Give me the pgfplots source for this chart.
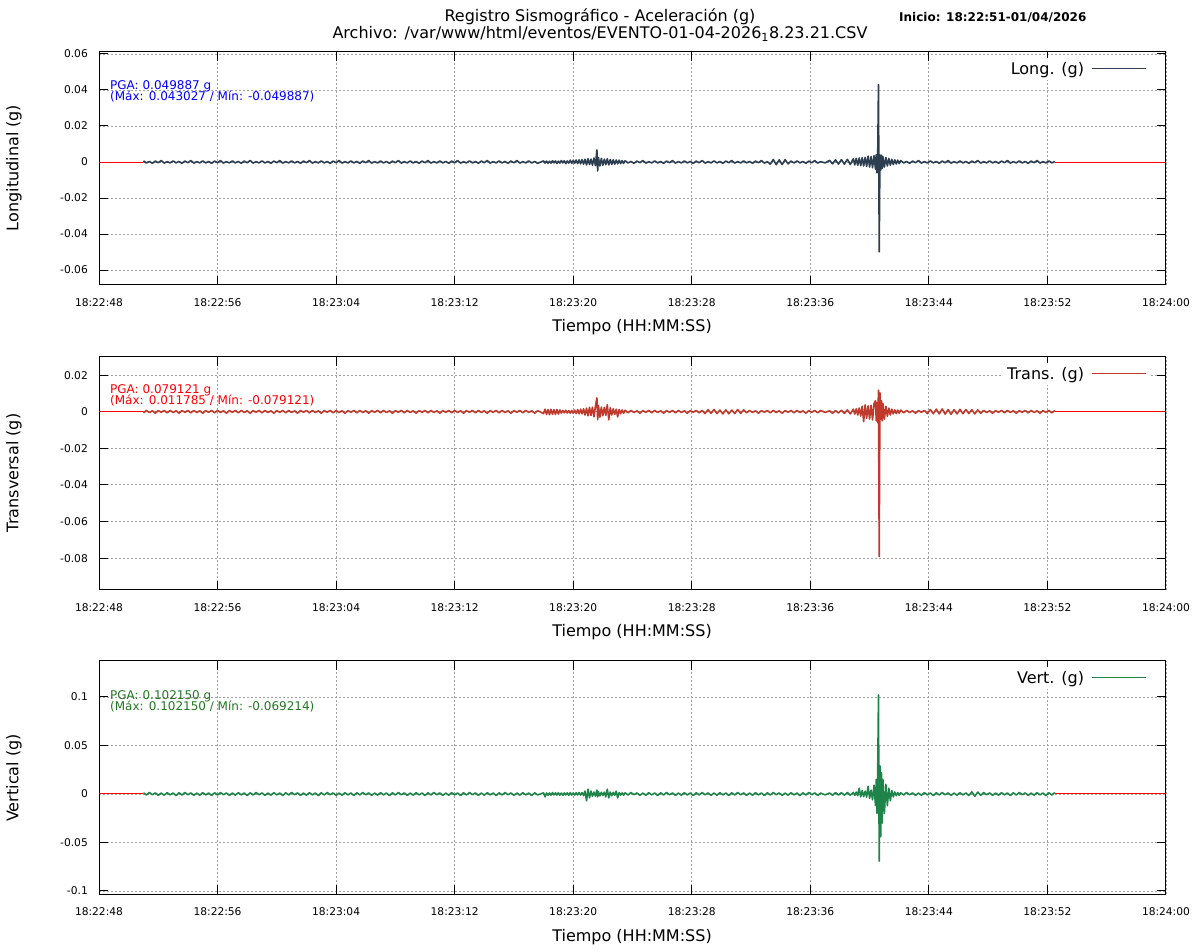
\documentclass[border=0pt]{standalone}
\usepackage{fontspec}
\setmainfont{DejaVu Sans}
\usepackage{pgfplots}
\usepackage{pgfplotstable}
\pgfplotsset{compat=1.18}

\definecolor{cLong}{RGB}{44,62,80}
\definecolor{cTrans}{RGB}{192,57,43}
\definecolor{cVert}{RGB}{30,132,73}
\definecolor{pgaGreen}{RGB}{34,119,34}
\definecolor{gridgray}{RGB}{160,160,160}

% t = seconds after 18:22:48, L/T/V = acceleration (g)
\pgfplotstableread{
t L T V
3.0 0.0006 -0.0006 0.0012
3.2 -0.0005 0.0007 -0.0010
3.4 0.0003 -0.0004 0.0015
3.6 -0.0007 0.0005 -0.0008
3.8 0.0005 -0.0008 0.0011
4.0 -0.0004 0.0006 -0.0014
4.2 0.0008 -0.0003 0.0009
4.4 -0.0006 0.0007 -0.0012
4.6 0.0002 -0.0006 0.0013
4.8 -0.0005 0.0007 -0.0009
5.0 0.0006 -0.0004 0.0010
5.2 -0.0005 0.0005 -0.0016
5.4 0.0003 -0.0008 0.0012
5.6 -0.0007 0.0006 -0.0010
5.8 0.0005 -0.0003 0.0015
6.0 -0.0004 0.0007 -0.0008
6.2 0.0008 -0.0006 0.0011
6.4 -0.0006 0.0007 -0.0014
6.6 0.0002 -0.0004 0.0009
6.8 -0.0005 0.0005 -0.0012
7.0 0.0006 -0.0008 0.0013
7.2 -0.0005 0.0006 -0.0009
7.4 0.0003 -0.0003 0.0010
7.6 -0.0007 0.0007 -0.0016
7.8 0.0005 -0.0006 0.0012
8.0 -0.0004 0.0007 -0.0010
8.2 0.0008 -0.0004 0.0015
8.4 -0.0006 0.0005 -0.0008
8.6 0.0002 -0.0008 0.0011
8.8 -0.0005 0.0006 -0.0014
9.0 0.0006 -0.0003 0.0009
9.2 -0.0005 0.0007 -0.0012
9.4 0.0003 -0.0006 0.0013
9.6 -0.0007 0.0007 -0.0009
9.8 0.0005 -0.0004 0.0010
10.0 -0.0004 0.0005 -0.0016
10.2 0.0008 -0.0008 0.0012
10.4 -0.0006 0.0006 -0.0010
10.6 0.0002 -0.0003 0.0015
10.8 -0.0005 0.0007 -0.0008
11.0 0.0006 -0.0006 0.0011
11.2 -0.0005 0.0007 -0.0014
11.4 0.0003 -0.0004 0.0009
11.6 -0.0007 0.0005 -0.0012
11.8 0.0005 -0.0008 0.0013
12.0 -0.0004 0.0006 -0.0009
12.2 0.0008 -0.0003 0.0010
12.4 -0.0006 0.0007 -0.0016
12.6 0.0002 -0.0006 0.0012
12.8 -0.0005 0.0007 -0.0010
13.0 0.0006 -0.0004 0.0015
13.2 -0.0005 0.0005 -0.0008
13.4 0.0003 -0.0008 0.0011
13.6 -0.0007 0.0006 -0.0014
13.8 0.0005 -0.0003 0.0009
14.0 -0.0004 0.0007 -0.0012
14.2 0.0008 -0.0006 0.0013
14.4 -0.0006 0.0007 -0.0009
14.6 0.0002 -0.0004 0.0010
14.8 -0.0005 0.0005 -0.0016
15.0 0.0006 -0.0008 0.0012
15.2 -0.0005 0.0006 -0.0010
15.4 0.0003 -0.0003 0.0015
15.6 -0.0007 0.0007 -0.0008
15.8 0.0005 -0.0006 0.0011
16.0 -0.0004 0.0007 -0.0014
16.2 0.0008 -0.0004 0.0009
16.4 -0.0006 0.0005 -0.0012
16.6 0.0002 -0.0008 0.0013
16.8 -0.0005 0.0006 -0.0009
17.0 0.0006 -0.0003 0.0010
17.2 -0.0005 0.0007 -0.0016
17.4 0.0003 -0.0006 0.0012
17.6 -0.0007 0.0007 -0.0010
17.8 0.0005 -0.0004 0.0015
18.0 -0.0004 0.0005 -0.0008
18.2 0.0008 -0.0008 0.0011
18.4 -0.0006 0.0006 -0.0014
18.6 0.0002 -0.0003 0.0009
18.8 -0.0005 0.0007 -0.0012
19.0 0.0006 -0.0006 0.0013
19.2 -0.0005 0.0007 -0.0009
19.4 0.0003 -0.0004 0.0010
19.6 -0.0007 0.0005 -0.0016
19.8 0.0005 -0.0008 0.0012
20.0 -0.0004 0.0006 -0.0010
20.2 0.0008 -0.0003 0.0015
20.4 -0.0006 0.0007 -0.0008
20.6 0.0002 -0.0006 0.0011
20.8 -0.0005 0.0007 -0.0014
21.0 0.0006 -0.0004 0.0009
21.2 -0.0005 0.0005 -0.0012
21.4 0.0003 -0.0008 0.0013
21.6 -0.0007 0.0006 -0.0009
21.8 0.0005 -0.0003 0.0010
22.0 -0.0004 0.0007 -0.0016
22.2 0.0008 -0.0006 0.0012
22.4 -0.0006 0.0007 -0.0010
22.6 0.0002 -0.0004 0.0015
22.8 -0.0005 0.0005 -0.0008
23.0 0.0006 -0.0008 0.0011
23.2 -0.0005 0.0006 -0.0014
23.4 0.0003 -0.0003 0.0009
23.6 -0.0007 0.0007 -0.0012
23.8 0.0005 -0.0006 0.0013
24.0 -0.0004 0.0007 -0.0009
24.2 0.0008 -0.0004 0.0010
24.4 -0.0006 0.0005 -0.0016
24.6 0.0002 -0.0008 0.0012
24.8 -0.0005 0.0006 -0.0010
25.0 0.0006 -0.0003 0.0015
25.2 -0.0005 0.0007 -0.0008
25.4 0.0003 -0.0006 0.0011
25.6 -0.0007 0.0007 -0.0014
25.8 0.0005 -0.0004 0.0009
26.0 -0.0004 0.0005 -0.0012
26.2 0.0008 -0.0008 0.0013
26.4 -0.0006 0.0006 -0.0009
26.6 0.0002 -0.0003 0.0010
26.8 -0.0005 0.0007 -0.0016
27.0 0.0006 -0.0006 0.0012
27.2 -0.0005 0.0007 -0.0010
27.4 0.0003 -0.0004 0.0015
27.6 -0.0007 0.0005 -0.0008
27.8 0.0005 -0.0008 0.0011
28.0 -0.0004 0.0006 -0.0014
28.2 0.0008 -0.0003 0.0009
28.4 -0.0006 0.0007 -0.0012
28.6 0.0002 -0.0006 0.0013
28.8 -0.0005 0.0007 -0.0009
29.0 0.0006 -0.0004 0.0010
29.2 -0.0005 0.0005 -0.0016
29.4 0.0003 -0.0008 0.0012
29.6 -0.0007 0.0006 -0.0010
30.0 0.0006 -0.0010 0.0012
30.1 -0.0006 0.0014 -0.0030
30.2 0.0005 -0.0015 0.0011
30.3 -0.0007 0.0012 -0.0013
30.4 0.0004 -0.0016 0.0010
30.5 -0.0006 0.0013 -0.0012
30.6 0.0007 -0.0014 0.0014
30.7 -0.0005 0.0011 -0.0010
30.8 0.0006 -0.0015 0.0012
30.9 -0.0008 0.0012 -0.0011
31.0 0.0005 -0.0013 0.0013
31.1 -0.0006 0.0010 -0.0012
31.2 0.0008 -0.0008 0.0010
31.3 -0.0005 0.0007 -0.0014
31.4 0.0007 -0.0006 0.0011
31.5 -0.0009 0.0008 -0.0010
31.6 0.0006 -0.0007 0.0012
31.7 -0.0006 0.0006 -0.0013
31.8 0.0010 -0.0008 0.0014
31.9 -0.0008 0.0007 -0.0011
32.0 0.0009 -0.0008 0.0010
32.1 -0.0007 0.0009 -0.0012
32.2 0.0011 -0.0010 0.0013
32.3 -0.0009 0.0012 -0.0010
32.4 0.0012 -0.0011 0.0015
32.5 -0.0010 0.0014 -0.0012
32.6 0.0013 -0.0012 0.0014
32.7 -0.0012 0.0016 -0.0016
32.8 0.0015 -0.0018 0.0030
32.9 -0.0016 0.0020 -0.0070
33.0 0.0018 -0.0022 0.0050
33.1 -0.0014 0.0024 -0.0040
33.2 0.0016 -0.0020 0.0030
33.3 -0.0018 0.0025 -0.0025
33.4 0.0022 -0.0028 0.0020
33.5 -0.0020 0.0030 -0.0022
33.6 0.0067 0.0076 0.0040
33.65 -0.0050 -0.0044 -0.0030
33.7 0.0025 0.0035 0.0025
33.8 -0.0022 -0.0030 -0.0020
33.9 0.0020 0.0025 0.0018
34.0 -0.0018 -0.0022 -0.0016
34.1 0.0016 0.0024 0.0020
34.2 -0.0015 -0.0020 -0.0030
34.3 0.0018 0.0038 0.0050
34.4 -0.0016 -0.0044 -0.0040
34.5 0.0014 0.0022 0.0020
34.6 -0.0013 -0.0018 -0.0018
34.7 0.0012 0.0016 0.0016
34.8 -0.0012 -0.0015 -0.0014
34.9 0.0011 0.0014 0.0030
35.0 -0.0010 -0.0028 -0.0040
35.1 0.0010 0.0012 0.0015
35.2 -0.0009 -0.0011 -0.0012
35.3 0.0008 0.0010 0.0011
35.4 -0.0008 -0.0009 -0.0013
35.5 0.0007 0.0008 0.0012
35.7 -0.0005 -0.0006 -0.0010
35.9 0.0003 0.0007 0.0015
36.1 -0.0007 -0.0004 -0.0008
36.3 0.0005 0.0005 0.0011
36.5 -0.0004 -0.0008 -0.0014
36.7 0.0008 0.0006 0.0009
36.9 -0.0006 -0.0003 -0.0012
37.1 0.0002 0.0007 0.0013
37.3 -0.0005 -0.0006 -0.0009
37.5 0.0006 0.0007 0.0010
37.7 -0.0005 -0.0004 -0.0016
37.9 0.0003 0.0005 0.0012
38.1 -0.0007 -0.0008 -0.0010
38.3 0.0005 0.0006 0.0015
38.5 -0.0004 -0.0003 -0.0008
38.7 0.0008 0.0007 0.0011
38.9 -0.0006 -0.0006 -0.0014
39.1 0.0002 0.0007 0.0009
39.3 -0.0005 -0.0004 -0.0012
39.5 0.0006 0.0005 0.0013
39.7 -0.0005 -0.0008 -0.0009
39.9 0.0003 0.0006 0.0010
40.1 -0.0007 -0.0003 -0.0016
40.3 0.0005 0.0007 0.0012
40.5 -0.0004 -0.0006 -0.0010
40.7 0.0008 0.0007 0.0015
40.9 -0.0006 -0.0010 -0.0008
41.1 0.0002 0.0011 0.0011
41.3 -0.0005 -0.0009 -0.0014
41.5 0.0006 0.0012 0.0009
41.7 -0.0005 -0.0010 -0.0012
41.9 0.0003 0.0009 0.0013
42.1 -0.0007 -0.0012 -0.0009
42.3 0.0005 0.0010 0.0010
42.5 -0.0004 -0.0011 -0.0016
42.7 0.0008 0.0009 0.0012
42.9 -0.0006 -0.0010 -0.0010
43.1 0.0002 0.0012 0.0015
43.3 -0.0005 -0.0009 -0.0008
43.5 0.0006 0.0010 0.0011
43.7 -0.0005 -0.0006 -0.0014
43.9 0.0003 0.0007 0.0009
44.1 -0.0007 -0.0004 -0.0012
44.3 0.0005 0.0005 0.0013
44.5 -0.0004 -0.0008 -0.0009
44.7 0.0008 0.0006 0.0010
44.9 -0.0006 -0.0003 -0.0016
45.1 0.0002 0.0007 0.0012
45.3 -0.0012 -0.0006 -0.0010
45.5 0.0014 0.0007 0.0015
45.7 -0.0015 -0.0004 -0.0008
45.9 0.0012 0.0005 0.0011
46.1 -0.0014 -0.0008 -0.0014
46.3 0.0013 0.0006 0.0009
46.5 -0.0010 -0.0003 -0.0012
46.7 0.0005 0.0007 0.0013
46.9 -0.0005 -0.0006 -0.0009
47.1 0.0006 0.0007 0.0010
47.3 -0.0005 -0.0004 -0.0016
47.5 0.0003 0.0005 0.0012
47.7 -0.0007 -0.0008 -0.0010
47.9 0.0005 0.0006 0.0015
48.1 -0.0004 -0.0003 -0.0008
48.3 0.0008 0.0007 0.0011
48.5 -0.0006 -0.0006 -0.0014
48.7 0.0002 0.0007 0.0009
49.0 -0.0005 -0.0004 -0.0009
49.3 0.0009 0.0005 0.0010
49.5 -0.0010 -0.0008 -0.0012
49.7 0.0012 0.0006 0.0014
49.9 -0.0011 -0.0007 -0.0011
50.1 0.0013 0.0008 0.0013
50.3 -0.0012 -0.0009 -0.0012
50.5 0.0015 0.0010 0.0015
50.7 -0.0014 -0.0012 -0.0013
50.9 0.0018 0.0014 0.0016
51.0 -0.0016 -0.0013 -0.0014
51.1 0.0020 0.0016 0.0020
51.2 -0.0018 -0.0018 -0.0018
51.3 0.0022 0.0020 0.0060
51.4 -0.0020 -0.0024 -0.0030
51.5 0.0024 0.0030 0.0035
51.6 -0.0022 -0.0054 -0.0028
51.7 0.0026 0.0038 0.0030
51.8 -0.0025 -0.0035 -0.0032
51.9 0.0033 0.0032 0.0080
52.0 -0.0028 -0.0040 -0.0045
52.1 0.0030 0.0035 0.0040
52.2 -0.0032 -0.0045 -0.0060
52.3 0.0035 0.0045 0.0090
52.4 -0.0040 0.0060 -0.0120
52.45 0.0040 -0.0050 0.0150
52.5 -0.0060 0.0050 -0.0200
52.55 0.0045 -0.0060 0.0250
52.6 0.043027 0.011785 0.102150
52.65 -0.049887 -0.079121 -0.069214
52.7 0.0040 0.0103 0.0290
52.75 -0.0045 -0.0040 -0.0440
52.8 0.0038 0.0060 0.0220
52.85 -0.0035 -0.0050 -0.0300
52.9 0.0030 0.0045 0.0150
53.0 -0.0028 -0.0040 -0.0200
53.1 0.0025 0.0030 0.0100
53.2 -0.0022 -0.0025 -0.0120
53.3 0.0020 0.0020 0.0060
53.4 -0.0018 -0.0018 -0.0070
53.5 0.0015 0.0014 0.0035
53.6 -0.0014 -0.0012 -0.0030
53.7 0.0012 0.0010 0.0020
53.8 -0.0011 -0.0010 -0.0018
53.9 0.0010 0.0009 0.0015
54.0 -0.0009 -0.0008 -0.0013
54.1 0.0008 0.0009 0.0012
54.3 -0.0005 -0.0006 -0.0010
54.5 0.0003 0.0007 0.0015
54.7 -0.0007 -0.0004 -0.0008
54.9 0.0005 0.0005 0.0011
55.1 -0.0004 -0.0008 -0.0014
55.3 0.0008 0.0006 0.0009
55.5 -0.0006 -0.0003 -0.0012
55.7 0.0002 0.0007 0.0013
55.9 -0.0005 -0.0010 -0.0009
56.1 0.0006 0.0012 0.0010
56.3 -0.0005 -0.0011 -0.0016
56.5 0.0003 0.0014 0.0012
56.7 -0.0007 -0.0012 -0.0010
56.9 0.0005 0.0015 0.0015
57.1 -0.0004 -0.0013 -0.0008
57.3 0.0008 0.0012 0.0011
57.5 -0.0006 -0.0014 -0.0014
57.7 0.0002 0.0011 0.0009
57.9 -0.0005 -0.0012 -0.0012
58.1 0.0006 0.0013 0.0013
58.3 -0.0005 -0.0011 -0.0009
58.5 0.0003 0.0012 0.0010
58.7 -0.0007 -0.0010 -0.0016
58.9 0.0005 0.0011 0.0022
59.1 -0.0004 -0.0012 -0.0024
59.3 0.0008 0.0010 0.0020
59.5 -0.0006 -0.0009 -0.0014
59.7 0.0002 0.0007 0.0015
59.9 -0.0005 -0.0004 -0.0008
60.1 0.0006 0.0005 0.0011
60.3 -0.0005 -0.0008 -0.0014
60.5 0.0003 0.0006 0.0009
60.7 -0.0007 -0.0003 -0.0012
60.9 0.0005 0.0007 0.0013
61.1 -0.0004 -0.0006 -0.0009
61.3 0.0008 0.0007 0.0010
61.5 -0.0006 -0.0004 -0.0016
61.7 0.0002 0.0005 0.0012
61.9 -0.0005 -0.0008 -0.0010
62.1 0.0006 0.0006 0.0015
62.3 -0.0005 -0.0003 -0.0008
62.5 0.0003 0.0007 0.0011
62.7 -0.0007 -0.0006 -0.0014
62.9 0.0005 0.0007 0.0009
63.1 -0.0004 -0.0004 -0.0012
63.3 0.0008 0.0005 0.0013
63.5 -0.0006 -0.0008 -0.0009
63.7 0.0002 0.0006 0.0010
63.9 -0.0005 -0.0003 -0.0016
64.1 0.0006 0.0007 0.0012
64.3 -0.0005 -0.0006 -0.0010
64.5 0.0003 0.0007 0.0015
}\sismo

\pgfplotsset{
  panel/.style={
    scale only axis, width=1067bp, height=233bp, anchor=south west,
    xmin=0, xmax=72, xtick={0,8,...,72},
    xticklabels={18:22:48,18:22:56,18:23:04,18:23:12,18:23:20,18:23:28,18:23:36,18:23:44,18:23:52,18:24:00},
    scaled y ticks=false,
    tick align=inside, major tick length=9bp,
    axis line style={line width=1bp},
    tick style={black, line width=1bp},
    grid=major,
    major grid style={gridgray, line width=0.9bp, dash pattern=on 2bp off 2bp},
    /pgf/number format/assume math mode=true,
    tick label style={font=\fontsize{10.67bp}{12bp}\selectfont, inner sep=0pt},
    xticklabel style={anchor=north, yshift=-13bp},
    yticklabel style={anchor=east, xshift=-11bp,
      /pgf/number format/fixed, /pgf/number format/precision=3},
    legend plot pos=right, legend cell align=right,
    legend style={at={(0.9841,0.975)}, anchor=north east, draw=none, fill=white,
      font=\fontsize{16bp}{18bp}\selectfont, inner sep=2bp},
    legend image code/.code={\draw[#1, line width=0.8bp] (0bp,0bp) (6bp,0bp) -- (60bp,0bp);},
  },
  trace/.style={line width=1.6bp, line join=round},
  zeroline/.style={red, line width=1bp, forget plot},
}

\begin{document}
\begin{tikzpicture}
\useasboundingbox (0,0) rectangle (1200bp,950bp);

\begin{axis}[panel, at={(99bp,665bp)}, ymin=-0.0683, ymax=0.0611,
  ytick={-0.06,-0.04,-0.02,0,0.02,0.04,0.06}]
\addplot[zeroline] coordinates {(0,0) (3.0,0)};
\addplot[zeroline] coordinates {(64.5,0) (72,0)};
\addplot[cLong, trace] table[x=t, y=L] {\sismo};
\addlegendentry{Long. (g)}
\end{axis}

\begin{axis}[panel, at={(99bp,360bp)}, ymin=-0.0974, ymax=0.0299,
  ytick={-0.08,-0.06,-0.04,-0.02,0,0.02}]
\addplot[zeroline] coordinates {(0,0) (3.0,0)};
\addplot[zeroline] coordinates {(64.5,0) (72,0)};
\addplot[cTrans, trace] table[x=t, y=T] {\sismo};
\addlegendentry{Trans. (g)}
\end{axis}

\begin{axis}[panel, at={(99bp,56bp)}, ymin=-0.1031, ymax=0.1371,
  ytick={-0.1,-0.05,0,0.05,0.1}]
\addplot[zeroline] coordinates {(0,0) (3.0,0)};
\addplot[zeroline] coordinates {(64.5,0) (72,0)};
\addplot[cVert, trace] table[x=t, y=V] {\sismo};
\addlegendentry{Vert. (g)}
\end{axis}

% titles
\begin{scope}[every node/.style={font=\fontsize{16bp}{18bp}\selectfont, inner sep=0pt}]
\node at (600bp,933bp) {Registro Sismográfico - Aceleración (g)};
\node at (600bp,916bp) {Archivo: /var/www/html/eventos/EVENTO-01-04-2026\textsubscript{1}8.23.21.CSV};
\node[rotate=90] at (14bp,782bp) {Longitudinal (g)};
\node[rotate=90] at (14bp,477bp) {Transversal (g)};
\node[rotate=90] at (14bp,172bp) {Vertical (g)};
\node at (632bp,623bp) {Tiempo (HH:MM:SS)};
\node at (632bp,318bp) {Tiempo (HH:MM:SS)};
\node at (632bp,13bp) {Tiempo (HH:MM:SS)};
\end{scope}
\node[anchor=west, inner sep=0pt, font=\bfseries\fontsize{12bp}{14bp}\selectfont] at (899bp,932bp) {Inicio: 18:22:51-01/04/2026};

% PGA notes
\begin{scope}[every node/.style={anchor=base west, inner sep=0pt, font=\fontsize{12bp}{14bp}\selectfont}]
\node[blue] at (110bp,860bp) {PGA: 0.049887 g};
\node[blue] at (110bp,849bp) {(Máx: 0.043027 / Mín: -0.049887)};
\node[red] at (110bp,556bp) {PGA: 0.079121 g};
\node[red] at (110bp,545bp) {(Máx: 0.011785 / Mín: -0.079121)};
\node[pgaGreen] at (110bp,250bp) {PGA: 0.102150 g};
\node[pgaGreen] at (110bp,239bp) {(Máx: 0.102150 / Mín: -0.069214)};
\end{scope}
\end{tikzpicture}
\end{document}
